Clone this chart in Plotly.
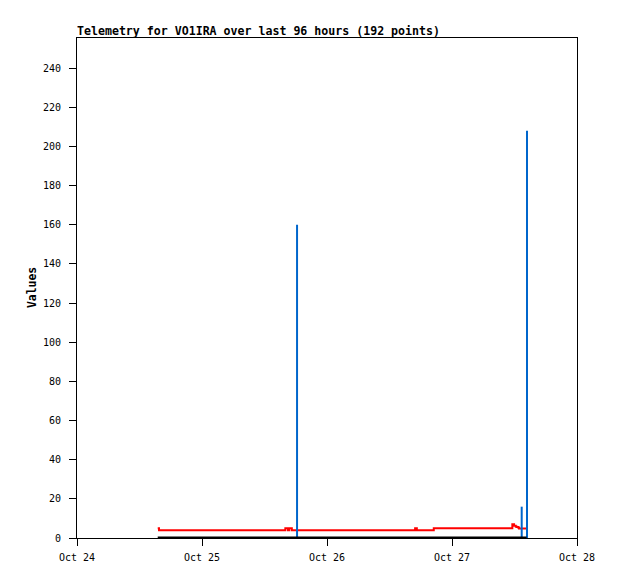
import plotly.graph_objects as go

# telemetry channels
zero_times = ["2024-10-24 15:30", "2024-10-27 14:20"]
zero_values = [0, 0]

red_times = ["2024-10-24 15:30", "2024-10-24 15:45",
             "2024-10-25 16:00", "2024-10-25 16:30", "2024-10-25 16:45", "2024-10-25 17:15",
             "2024-10-26 16:55", "2024-10-26 17:15", "2024-10-26 20:30",
             "2024-10-27 11:35", "2024-10-27 11:55", "2024-10-27 12:15", "2024-10-27 12:30",
             "2024-10-27 12:45", "2024-10-27 12:52", "2024-10-27 14:15"]
red_values = [5, 4,
              5, 4, 5, 4,
              5, 4, 5,
              7, 6.3, 5.8, 5.6,
              5.2, 4.9, 4.9]

spike_times = ["2024-10-25 18:15", "2024-10-27 13:23", "2024-10-27 14:24"]
spike_values = [160, 16, 208]

y_ticks = list(range(0, 241, 20))
x_ticks = ["2024-10-24", "2024-10-25", "2024-10-26", "2024-10-27", "2024-10-28"]
x_labels = ["Oct 24", "Oct 25", "Oct 26", "Oct 27", "Oct 28"]

mono = "DejaVu Sans Mono"

# impulses: one vertical segment per spike
imp_x, imp_y = [], []
for t, v in zip(spike_times, spike_values):
    imp_x += [t, t, None]
    imp_y += [0, v, None]

fig = go.Figure()
fig.add_trace(go.Scatter(x=red_times, y=red_values, mode="lines", line_shape="hv",
                         line=dict(color="#ff0000", width=2)))
fig.add_trace(go.Scatter(x=imp_x, y=imp_y, mode="lines",
                         line=dict(color="#0066cc", width=2)))
fig.add_trace(go.Scatter(x=zero_times, y=zero_values, mode="lines",
                         line=dict(color="#000000", width=3)))

# page body has an 8px margin, so the figure is a bit smaller than the window
fig.update_layout(
    width=610, height=571,
    margin=dict(l=69, r=41, t=30, b=41),
    paper_bgcolor="white", plot_bgcolor="white",
    showlegend=False,
    font=dict(family=mono, size=10, color="black"),
    title=dict(text="<b>Telemetry for VO1IRA over last 96 hours (192 points)</b>",
               font=dict(family=mono, size=11.6, color="black"),
               xref="paper", x=0, xanchor="left",
               yref="container", y=1 - 23 / 571, yanchor="middle"),
)
fig.update_xaxes(range=["2024-10-24", "2024-10-28"], tickvals=x_ticks, ticktext=x_labels,
                 ticks="outside", ticklen=7, tickcolor="black", ticklabelstandoff=3,
                 showline=True, linecolor="black", linewidth=1, mirror=True,
                 showgrid=False, zeroline=False)
fig.update_yaxes(range=[0, 255.4], tickvals=y_ticks,
                 ticks="outside", ticklen=7, tickcolor="black", ticklabelstandoff=6,
                 showline=True, linecolor="black", linewidth=1, mirror=True,
                 showgrid=False, zeroline=False)
fig.add_annotation(text="<b>Values</b>", textangle=-90, showarrow=False,
                   xref="paper", x=0, xshift=-45, xanchor="center",
                   yref="paper", y=0.5, yanchor="middle",
                   font=dict(family=mono, size=11.4))

fig.write_html("out.html")
